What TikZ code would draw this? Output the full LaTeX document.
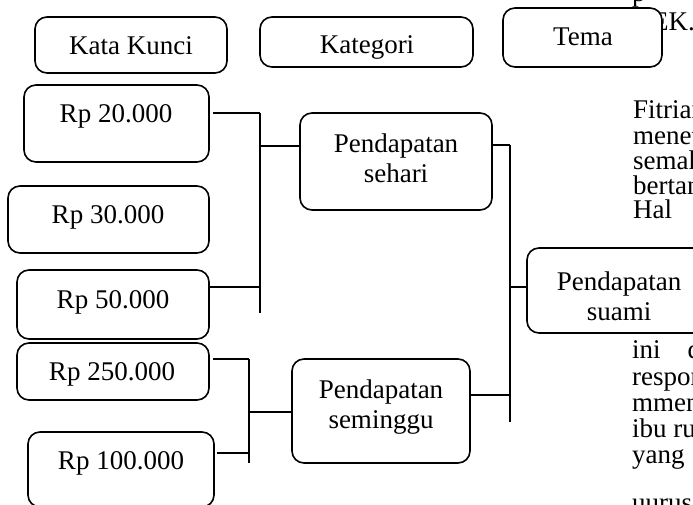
\documentclass[tikz,border=0pt]{standalone}
\usepackage{fontspec}
\setmainfont{Liberation Serif}
\usetikzlibrary{positioning}

\tikzset{
  kotak/.style={draw, fill=white, rounded corners=12pt, line width=1.6pt, inner sep=0pt},
  teks/.style={font=\fontsize{27}{30}\selectfont, inner sep=0pt, anchor=base},
  dua/.style={teks, align=center, anchor=north},
  latar/.style={teks, anchor=base west},
  garis/.style={line width=1.6pt}
}

\begin{document}
\begin{tikzpicture}[x=1pt,y=-1pt]
\useasboundingbox (0,0) rectangle (693,504);
\clip (0,0) rectangle (693,504);

% teks halaman di belakang
\node[latar] (l0) at (632,1) {p};
\node[latar] (l1) at (652,30) {EK.};
\node[latar] (l2) at (633,118) {Fitrian};
\node[latar] (l3) at (633,144) {menet};
\node[latar] (l4) at (633,169) {semak};
\node[latar] (l5) at (633,194) {bertan};
\node[latar] (l6) at (633,218) {Hal};
\node[latar] (l7) at (632,358) {ini\hspace{27pt}d};
\node[latar] (l8) at (632,385) {respon};
\node[latar] (l9) at (632,411) {mmen};
\node[latar] (l10) at (632,437) {ibu ru};
\node[latar] (l11) at (632,463) {yang};
\node[latar] (l12) at (632,511) {uurus};

% judul
\node[kotak, minimum width=192pt, minimum height=56pt] (kk) at (131,45) {};
\node[teks] (tkk) at (131,54) {Kata Kunci};
\node[kotak, minimum width=213pt, minimum height=50pt] (kat) at (366.5,42) {};
\node[teks] (tkat) at (367,53) {Kategori};
\node[kotak, minimum width=159pt, minimum height=59pt] (tema) at (582.5,37.5) {};
\node[teks] (ttema) at (583,45) {Tema};

% kata kunci
\node[kotak, minimum width=185pt, minimum height=77pt] (r20) at (116.5,123.5) {};
\node[teks] (t20) at (116,122) {Rp 20.000};
\node[kotak, minimum width=201pt, minimum height=67pt] (r30) at (108.5,219.5) {};
\node[teks] (t30) at (108,223) {Rp 30.000};
\node[kotak, minimum width=192pt, minimum height=69pt] (r50) at (113,304.5) {};
\node[teks] (t50) at (113,308) {Rp 50.000};
\node[kotak, minimum width=192pt, minimum height=57pt] (r250) at (113,371.5) {};
\node[teks] (t250) at (112,380) {Rp 250.000};
\node[kotak, minimum width=186pt, minimum height=75pt] (r100) at (121,469.5) {};
\node[teks] (t100) at (121,469) {Rp 100.000};

% kategori
\node[kotak, minimum width=192pt, minimum height=97pt] (ps) at (396,161.5) {};
\node[dua] (tps) at (396,134) {Pendapatan\\sehari};
\node[kotak, minimum width=178pt, minimum height=104pt] (pm) at (381,411) {};
\node[dua] (tpm) at (381,380) {Pendapatan\\seminggu};

% tema
\node[kotak, minimum width=193pt, minimum height=85pt] (psu) at (623.5,290.5) {};
\node[dua] (tpsu) at (619,272) {Pendapatan\\suami};

% penghubung
\coordinate (a1) at (260,113);
\coordinate (a2) at (260,313);
\coordinate (a3) at (260,146);
\coordinate (a4) at (260,287);
\draw[garis] (a1) -- (a2);
\draw[garis] (r20.east |- a1) ++(3,0) -- (a1);
\draw[garis] (r50.east |- a4) -- (a4);
\draw[garis] (a3) -- (ps.west |- a3);

\coordinate (b1) at (249,359);
\coordinate (b2) at (249,463);
\coordinate (b3) at (249,412);
\coordinate (b4) at (249,453);
\draw[garis] (b1) -- (b2);
\draw[garis] (r250.east |- b1) ++(3,0) -- (b1);
\draw[garis] (r100.east |- b4) ++(2,0) -- (b4);
\draw[garis] (b3) -- (pm.west |- b3);

\coordinate (c1) at (510,145);
\coordinate (c2) at (510,422);
\coordinate (c3) at (510,287);
\draw[garis] (c1) -- (c2);
\draw[garis] (ps.east |- c1) -- (c1);
\draw[garis] (pm.east |- 0,395) -- (c2 |- 0,395);
\draw[garis] (c3) -- (psu.west |- c3);

\end{tikzpicture}
\end{document}
